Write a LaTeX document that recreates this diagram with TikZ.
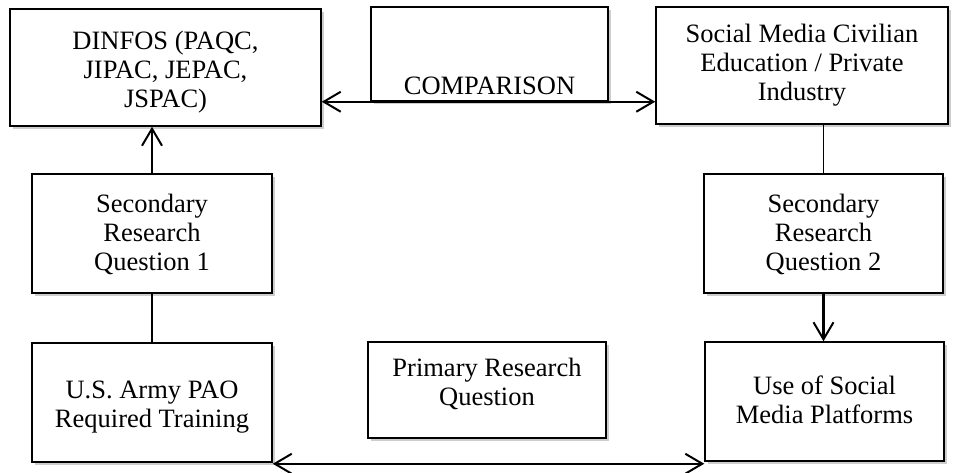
\documentclass[tikz,border=0pt]{standalone}
\usepackage{fontspec}
\setmainfont{Liberation Serif}
\usetikzlibrary{arrows.meta,shadows,calc}
\begin{document}
\begin{tikzpicture}[x=1pt,y=-1pt,
  box/.style={draw=black, line width=1.5pt, fill=white, inner sep=0pt, align=center,
    font=\fontsize{26.5}{29}\selectfont,
    drop shadow={shadow xshift=2.5pt, shadow yshift=-3pt, opacity=0.28, fill=black!70}},
  lbl/.style={inner sep=0pt, align=center, font=\fontsize{26.5}{29}\selectfont},
  tipb/.tip={Straight Barb[length=17pt,width=20pt,line width=2pt]},
  arr/.style={line width=2.2pt, tipb-tipb},
  arrone/.style={line width=2.2pt, -tipb},
  thin/.style={line width=1.1pt}
]
\useasboundingbox[fill=white] (0,0) rectangle (958,473);

\node[box, minimum width=311pt, minimum height=117pt] (dinfos) at (165.5,67.5) {};
\node[lbl, anchor=base] (dinfostext) at (165.5,108) {DINFOS (PAQC,\\JIPAC, JEPAC,\\JSPAC)};
\node[box, minimum width=237pt, minimum height=94pt] (comp) at (489.5,54) {};
\node[lbl, anchor=base] (comptext) at (489.5,95) {COMPARISON};
\node[box, minimum width=292pt, minimum height=117pt] (social) at (802,65.5) {};
\node[lbl, anchor=base] (socialtext) at (802,101) {Social Media Civilian\\Education / Private\\Industry};
\node[box, minimum width=240pt, minimum height=119pt] (srq1) at (152,233.5) {};
\node[lbl, anchor=base] (srq1text) at (152,270) {Secondary\\Research\\Question 1};
\node[box, minimum width=239pt, minimum height=119pt] (srq2) at (823.5,233.5) {};
\node[lbl, anchor=base] (srq2text) at (823.5,270) {Secondary\\Research\\Question 2};
\node[box, minimum width=240pt, minimum height=119pt] (army) at (152,402.5) {};
\node[lbl, anchor=base] (armytext) at (152,427) {U.S. Army PAO\\Required Training};
\node[box, minimum width=238pt, minimum height=96pt] (primary) at (487,390) {};
\node[lbl, anchor=base] (primtext) at (487,405) {Primary Research\\Question};
\node[box, minimum width=239pt, minimum height=119pt] (use) at (824.5,401.5) {};
\node[lbl, anchor=base] (usetext) at (824.5,423) {Use of Social\\Media Platforms};

% connectors
\draw[arr] (dinfos.east |- comp.south) -- (social.west |- comp.south);
\draw[arrone] (srq1.north) -- (srq1.north |- dinfos.south);
\draw[thin] (srq2.north) -- (srq2.north |- social.south);
\draw[thin] (srq1.south) -- (army.north);
\draw[arrone] (srq2.south) -- (srq2.south |- use.north);
\draw[arr] ($(army.south east)+(0,1)$) -- ($(use.west |- army.south east)+(0,1)$);
\end{tikzpicture}
\end{document}
